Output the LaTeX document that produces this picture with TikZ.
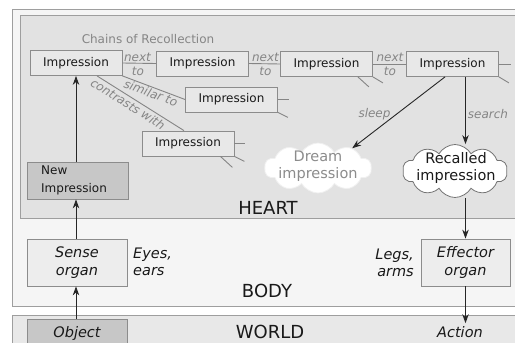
\documentclass[tikz,border=0pt]{standalone}
\usepackage{fontspec}
\setmainfont{DejaVu Sans}
\usetikzlibrary{shapes.symbols,arrows.meta,calc}
\definecolor{heartbg}{gray}{0.885}
\definecolor{bodybg}{gray}{0.96}
\definecolor{worldbg}{gray}{0.91}
\definecolor{framecol}{gray}{0.62}
\definecolor{boxline}{gray}{0.55}
\definecolor{impfill}{gray}{0.91}
\definecolor{darkfill}{gray}{0.78}
\definecolor{organfill}{gray}{0.93}
\definecolor{lblgray}{gray}{0.52}
\definecolor{linkgray}{gray}{0.52}
\begin{document}
\begin{tikzpicture}[x=1pt,y=-1pt,
  frame/.style={draw=framecol, line width=0.8pt},
  imp/.style={draw=boxline, fill=impfill, line width=0.8pt, minimum width=92pt, minimum height=25pt, inner sep=0pt, font=\fontsize{12}{14}\selectfont, text=black!90},
  darkbox/.style={draw=boxline, fill=darkfill, line width=0.8pt, inner sep=0pt},
  organ/.style={draw=boxline, fill=organfill, line width=0.8pt, inner sep=0pt, align=center, font=\fontsize{14.5}{17.5}\selectfont\itshape, text=black!90},
  organlbl/.style={inner sep=0pt, font=\fontsize{14.5}{17.5}\selectfont\itshape, text=black!90},
  region/.style={inner sep=0pt, font=\fontsize{18}{20}\selectfont, text=black!90},
  lbl/.style={text=lblgray, font=\fontsize{12}{14}\selectfont\itshape, inner sep=0pt},
  link/.style={draw=linkgray, line width=0.9pt},
  arr/.style={-{Stealth[length=9pt,width=6.5pt]}, line width=0.9pt, draw=black!85},
  cloudtxt/.style={inner sep=0pt, align=center, font=\fontsize{14.5}{17.5}\selectfont},
  puffy/.style={cloud, cloud puffs=10, cloud puff arc=120, aspect=2.1, fill=white, line width=0.8pt}
]
\useasboundingbox (0,0) rectangle (515,343);
\clip (0,0) rectangle (515,343);
\fill[white] (0,0) rectangle (515,343);
% regions
\draw[frame, fill=bodybg] (12,9) rectangle (540,306);
\draw[frame, fill=heartbg] (20,15.5) rectangle (540,218);
\draw[frame, fill=worldbg] (12,315) rectangle (540,360);
\node[region] (heartlbl) at (268,208) {HEART};
\node[region] (bodylbl) at (267,291) {BODY};
\node[region] (worldlbl) at (270,332) {WORLD};

\node[lbl, font=\fontsize{12}{14}\selectfont] (chains) at (148,39) {Chains of Recollection};

% impressions
\node[imp] (imp1) at (76,63) {Impression};
\node[imp] (imp2) at (202.5,63.5) {Impression};
\node[imp] (imp3) at (326.5,64) {Impression};
\node[imp] (imp4) at (452.5,64) {Impression};
\node[imp] (imp5) at (231.5,99.5) {Impression};
\node[imp] (imp6) at (188,143.5) {Impression};

% next-to links
\draw[link] (imp1.east) -- (imp2.west);
\draw[link] (imp2.east) -- (imp3.west);
\draw[link] (imp3.east) -- (imp4.west);
\node[lbl] (n1a) at (137.5,57) {next};
\node[lbl] (n1b) at (138,71) {to};
\node[lbl] (n2a) at (265.5,57) {next};
\node[lbl] (n2b) at (265.5,71) {to};
\node[lbl] (n3a) at (390,57) {next};
\node[lbl] (n3b) at (390,71) {to};

% similar / contrasts
\draw[link] (imp1.south east) -- (imp5.west);
\draw[link] ([xshift=21pt]imp1.south) -- ([xshift=-4pt]imp6.north);
\node[lbl, rotate=-20] (simlbl) at (151,93) {similar to};
\node[lbl, rotate=-32] (conlbl) at (128,104) {contrasts with};

% stubs
\draw[link] ([xshift=-15pt]imp3.south east) -- ++(11,10);
\draw[link] (imp3.south east) -- ++(10,6);
\draw[link] (imp4.east) -- ++(12,0);
\draw[link] (imp4.south east) -- ++(10,6);
\draw[link] (imp5.east) -- ++(11,0);
\draw[link] (imp5.south east) -- ++(10,5);
\draw[link] (imp6.east) -- ++(11,0);
\draw[link] ([xshift=-14pt]imp6.south east) -- ++(12,11);
\draw[link] (imp6.south east) -- ++(10,5);

% clouds
\node[puffy, draw=gray!12, minimum width=107pt, minimum height=50pt] (dream) at (318,168) {};
\node[cloudtxt, text=black!45] (dreamtxt) at (318,166) {Dream\\impression};
\node[puffy, draw=black!55, minimum width=105pt, minimum height=53pt] (recalled) at (455,171) {};
\node[cloudtxt, text=black!90] (recalledtxt) at (456,168) {Recalled\\impression};

\node[lbl] (sleep) at (374.5,114) {sleep};
\node[lbl] (search) at (488,114) {search};

% left column
\node[darkbox, minimum width=101pt, minimum height=37pt] (newimp) at (77.5,180.5) {};
\node[inner sep=0pt, align=left, font=\fontsize{12}{18}\selectfont, text=black!90] (newtxt) at (74,180.5) {New\\Impression};
\node[organ, minimum width=100pt, minimum height=47pt] (sense) at (77,262.5) {Sense\\organ};
\node[organlbl, anchor=west, align=left] (eyes) at (133,262) {Eyes,\\ears};
\node[darkbox, minimum width=100pt, minimum height=28pt, font=\fontsize{14.5}{17}\selectfont\itshape, text=black!90] (object) at (77,333) {Object};

% right column
\node[organ, minimum width=89pt, minimum height=47pt] (eff) at (465.5,262.5) {Effector\\organ};
\node[organlbl, anchor=east, align=right] (legs) at (414,263) {Legs,\\arms};
\node[organlbl] (action) at (460,332) {Action};

% arrows
\draw[arr] (newimp.north -| imp1.south) -- (imp1.south);
\draw[arr] (sense.north -| imp1.south) -- (newimp.south -| imp1.south);
\draw[arr] (object.north -| imp1.south) -- (sense.south -| imp1.south);
\draw[arr] ([xshift=-7.5pt]imp4.south) -- (dream.30);
\draw[arr] (imp4.south -| eff.north) -- (recalled.north -| eff.north);
\draw[arr] (recalled.south -| eff.north) -- (eff.north);
\draw[arr] (eff.south) -- ([yshift=3pt]eff.south |- action.north);
\end{tikzpicture}
\end{document}
